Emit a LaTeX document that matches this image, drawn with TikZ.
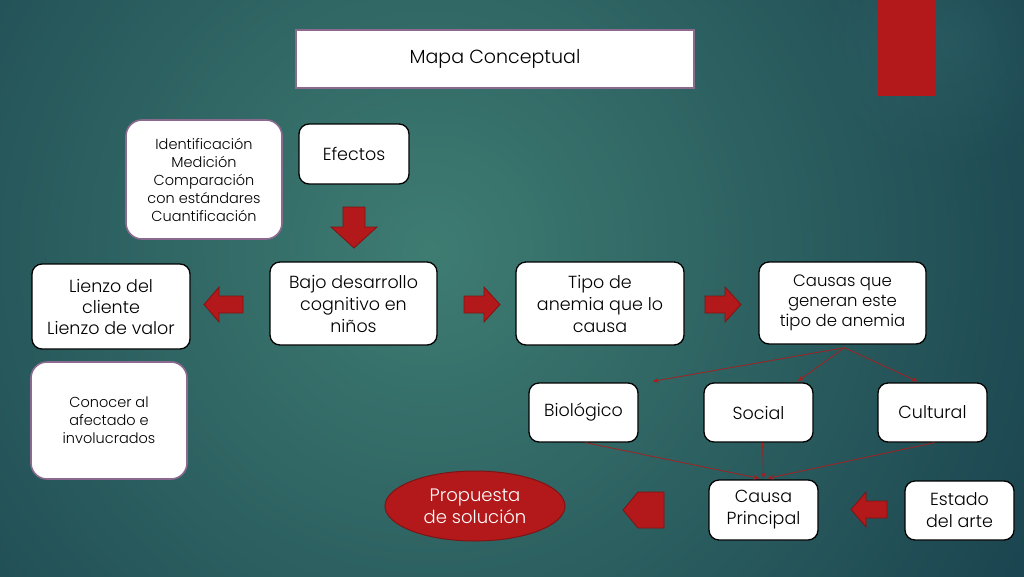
\documentclass[tikz,border=0pt]{standalone}
\usepackage{fontspec}
\setmainfont{Poppins}[UprightFont = * Light]
\usetikzlibrary{arrows.meta,shapes.geometric,calc,fadings}
\definecolor{bgin}{HTML}{3E7C72}
\definecolor{bgout}{HTML}{123747}
\definecolor{redfill}{HTML}{B3191A}
\definecolor{redline}{HTML}{7E1414}
\definecolor{purpleline}{HTML}{8C6A8F}
\definecolor{conn}{HTML}{A32020}
\tikzfading[name=softdot, inner color=transparent!40, outer color=transparent!100]
\tikzset{
  box/.style={draw=black, line width=1.3pt, rounded corners=10pt, fill=white, align=center, inner sep=0pt, font=\fontsize{17.5}{22}\selectfont},
  pbox/.style={box, draw=purpleline, line width=1.6pt, rounded corners=16pt},
  blockarrow/.style={fill=redfill, draw=redline, line width=0.8pt, line join=miter},
  thin/.style={draw=conn, line width=0.8pt, -{Stealth[length=6pt,width=5pt]}},
}
\begin{document}
\begin{tikzpicture}[x=1pt,y=-1pt]
\useasboundingbox (0,0) rectangle (1024,576);
\begin{scope}
\clip (0,0) rectangle (1024,576);
\shade[inner color=bgin, outer color=bgout] (430,250) circle (840);
\fill[teal!60!white, opacity=0.18, path fading=softdot] (950,40) circle (130);
\fill[redfill] (878,0) rectangle (936,96);
\end{scope}

% title
\node[draw=purpleline, line width=1.6pt, fill=white, minimum width=398pt, minimum height=58pt, inner sep=0pt, font=\fontsize{19}{22}\selectfont] (title) at (495,59) {Mapa Conceptual};

% nodes
\node[pbox, minimum width=156pt, minimum height=119pt, font=\fontsize{14.5}{18}\selectfont] (ident) at (204,179.5) {Identificación\\Medición\\Comparación\\con estándares\\Cuantificación};
\node[box, minimum width=110pt, minimum height=60pt] (efectos) at (354,154) {Efectos};
\node[box, minimum width=167pt, minimum height=83pt] (bajo) at (353.5,303.5) {Bajo desarrollo\\cognitivo en\\niños};
\node[box, minimum width=158pt, minimum height=85pt, font=\fontsize{17.5}{21}\selectfont] (lienzo) at (111,306.5) {Lienzo del\\cliente\\Lienzo de valor};
\node[pbox, minimum width=156pt, minimum height=117pt, font=\fontsize{14.5}{18}\selectfont] (conocer) at (109,420.5) {Conocer al\\afectado e\\involucrados};
\node[box, minimum width=168pt, minimum height=83pt] (tipo) at (600,303.5) {Tipo de\\anemia que lo\\causa};
\node[box, minimum width=167pt, minimum height=82pt, font=\fontsize{16.5}{20}\selectfont] (causas) at (842.5,303) {Causas que\\generan este\\tipo de anemia};
\node[box, minimum width=109pt, minimum height=59pt] (bio) at (583.5,412.5) {Biológico};
\node[box, minimum width=109pt, minimum height=59pt] (social) at (758.5,412.5) {Social};
\node[box, minimum width=109pt, minimum height=59pt] (cultural) at (932.5,412.5) {Cultural};
\node[box, minimum width=109pt, minimum height=60pt] (causap) at (763.5,510) {Causa\\Principal};
\node[box, minimum width=109pt, minimum height=59pt] (estado) at (959.5,510.5) {Estado\\del arte};
\node[ellipse, fill=redfill, draw=redline, line width=1pt, minimum width=180pt, minimum height=70pt, inner sep=0pt, align=center, text=white, font=\fontsize{18}{22}\selectfont] (prop) at (475,506) {Propuesta\\de solución};

% block arrows
\draw[blockarrow] (343,207) -- (365,207) -- (365,227) -- (377,227) -- (354,248) -- (331,227) -- (343,227) -- cycle;
\draw[blockarrow] (243,296) -- (219,296) -- (219,287) -- (204,304.5) -- (219,322) -- (219,313) -- (243,313) -- cycle;
\draw[blockarrow] (464,296) -- (484,296) -- (484,287) -- (500,304.5) -- (484,322) -- (484,313) -- (464,313) -- cycle;
\draw[blockarrow] (705,296) -- (725,296) -- (725,287) -- (741,304.5) -- (725,322) -- (725,313) -- (705,313) -- cycle;
\draw[blockarrow] (887,501) -- (866,501) -- (866,492) -- (851,509.5) -- (866,527) -- (866,518) -- (887,518) -- cycle;
\draw[blockarrow] (623,510) -- (638,492) -- (664,492) -- (664,528) -- (638,528) -- cycle;

% thin connectors
\coordinate (cs) at ($(causas.south)+(2,3)$);
\draw[thin] (cs) -- ($(bio.north east)+(14,-1)$);
\draw[thin] (cs) -- ($(social.north east)+(-16,-1)$);
\draw[thin] (cs) -- ($(cultural.north west)+(40,-1)$);
\draw[thin] ($(bio.south)+(2,0)$) -- ($(causap.north)+(-4,-1)$);
\draw[thin] ($(social.south)+(4,0)$) -- ($(causap.north)+(0,-1)$);
\draw[thin] ($(cultural.south)+(2,0)$) -- ($(causap.north)+(4,-1)$);
\end{tikzpicture}
\end{document}
